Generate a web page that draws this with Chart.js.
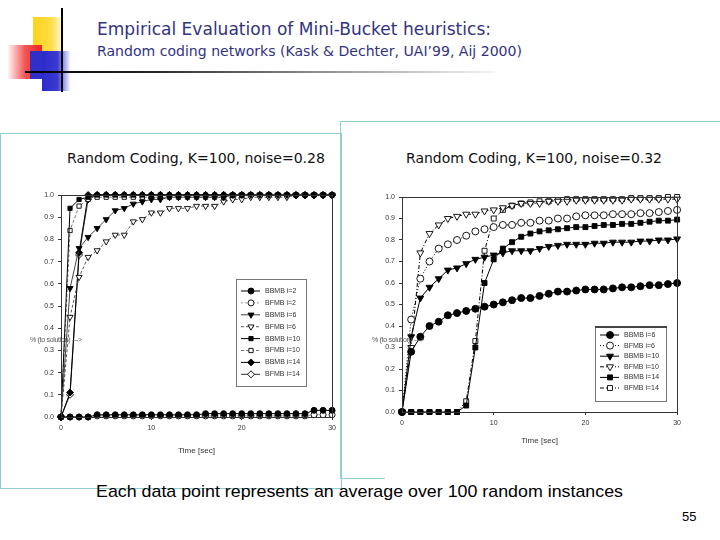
<!DOCTYPE html>
<html><head><meta charset="utf-8">
<script src="https://cdn.jsdelivr.net/npm/chart.js@4.4.0/dist/chart.umd.min.js"></script>
<style>
html,body{margin:0;padding:0;background:#fff;}
#slide{position:relative;width:720px;height:540px;overflow:hidden;background:#fff;font-family:"DejaVu Sans",Verdana,sans-serif;}
.abs{position:absolute;}
.fit{white-space:nowrap;transform-origin:0 50%;}
</style></head>
<body>
<div id="slide">
  <!-- decorations -->
  <div class="abs" style="left:33px;top:17px;width:30px;height:34px;background:linear-gradient(90deg,#ffd21a 0%,#ffdd44 60%,rgba(255,240,150,0.3) 100%);"></div>
  <div class="abs" style="left:8px;top:45px;width:34px;height:34px;background:linear-gradient(270deg,#ee2222 0%,#f25555 50%,rgba(255,200,200,0.2) 100%);"></div>
  <div class="abs" style="left:42px;top:51px;width:28px;height:40px;background:linear-gradient(90deg,#2b2bcc 0%,#3a3ad0 55%,rgba(200,200,255,0.2) 100%);"></div>
  <div class="abs" style="left:30px;top:51px;width:12px;height:28px;background:#3030c8;"></div>
  <div class="abs" style="left:61px;top:8px;width:2px;height:84px;background:#000;"></div>
  <div class="abs" style="left:25px;top:71px;width:470px;height:2px;background:linear-gradient(90deg,#000 0%,#222 25%,#888 60%,rgba(230,230,230,0.4) 100%);"></div>

  <div id="t1" class="abs fit" data-w="394" style="left:97px;top:18px;font-size:18px;color:#333380;">Empirical Evaluation of Mini-Bucket heuristics:</div>
  <div id="t2" class="abs fit" data-w="425" style="left:97px;top:43px;font-size:14px;color:#333380;">Random coding networks (Kask &amp; Dechter, UAI’99, Aij 2000)</div>

  <!-- panel borders -->
  <div class="abs" style="left:0px;top:133px;width:340px;height:354px;border:1px solid #8fcfcf;"></div>
  <div class="abs" style="left:340px;top:121px;width:400px;height:357px;border-left:1px solid #8fcfcf;border-top:1px solid #8fcfcf;"></div>
  <div class="abs" style="left:340px;top:478px;width:45px;height:1px;background:#8fcfcf;"></div>

  <div id="ct1" class="abs fit" data-w="258" style="left:67px;top:150px;font-size:14px;color:#111;">Random Coding, K=100, noise=0.28</div>
  <div id="ct2" class="abs fit" data-w="256" style="left:406px;top:150px;font-size:14px;color:#111;">Random Coding, K=100, noise=0.32</div>

  <canvas id="c1" class="abs" style="left:0px;top:180px;" width="340" height="280"></canvas>
  <canvas id="c2" class="abs" style="left:340px;top:180px;" width="345" height="275"></canvas>

  <div class="abs" style="left:30px;top:336px;font-size:7px;font-family:'Liberation Sans',Arial;color:#555;letter-spacing:-0.3px;">% (to solution) ---&gt;</div>
  <div class="abs" style="left:372px;top:336px;font-size:7px;font-family:'Liberation Sans',Arial;color:#555;letter-spacing:-0.3px;">% (to solution) ---&gt;</div>

  <div id="bt" class="abs fit" data-w="527" style="left:96px;top:482px;font-size:17px;font-family:'Liberation Sans',Arial;color:#000;">Each data point represents an average over 100 random instances</div>
  <div class="abs" style="left:682px;top:509px;font-size:13px;font-family:'Liberation Sans',Arial;color:#000;">55</div>
</div>
<script>
// ---------- data ----------
const timeSec = [0,1,2,3,4,5,6,7,8,9,10,11,12,13,14,15,16,17,18,19,20,21,22,23,24,25,26,27,28,29,30];
const xTicks = [0,10,20,30];

// Left chart: noise = 0.28
const L_BBMB_i2  = [0,0,0,0,0.01,0.01,0.01,0.01,0.01,0.01,0.01,0.01,0.01,0.01,0.01,0.01,0.015,0.015,0.015,0.015,0.015,0.015,0.015,0.015,0.015,0.015,0.015,0.015,0.03,0.03,0.03];
const L_BFMB_i2  = [0,0,0,0,0.005,0.005,0.005,0.005,0.005,0.005,0.005,0.005,0.005,0.005,0.005,0.005,0.005,0.005,0.005,0.005,0.005,0.005,0.005,0.005,0.005,0.005,0.005,0.005,0.01,0.01,0.01];
const L_BBMB_i6  = [0,0.58,0.76,0.81,0.85,0.89,0.93,0.94,0.96,0.97,0.98,0.98,0.99,0.99,0.99,0.99,0.99,0.99,0.99,1,1,1,1,1,1,1,1,1,1,1,1];
const L_BFMB_i6  = [0,0.45,0.63,0.72,0.75,0.79,0.82,0.82,0.88,0.89,0.92,0.92,0.94,0.94,0.94,0.95,0.95,0.95,0.97,0.98,0.98,0.99,0.99,0.99,0.99,0.99,1,1,1,1,1];
const L_BBMB_i10 = [0,0.94,0.98,0.99,1,1,1,1,1,1,1,1,1,1,1,1,1,1,1,1,1,1,1,1,1,1,1,1,1,1,1];
const L_BFMB_i10 = [0,0.84,0.95,0.98,0.99,0.99,0.99,0.99,0.99,0.99,0.99,0.99,0.99,0.99,0.99,0.99,0.99,0.99,0.99,0.99,1,1,1,1,1,1,1,1,1,1,1];
const L_BBMB_i14 = [0,0.11,0.74,1,1,1,1,1,1,1,1,1,1,1,1,1,1,1,1,1,1,1,1,1,1,1,1,1,1,1,1];
const L_BFMB_i14 = [0,0.10,0.73,0.98,1,1,1,1,1,1,1,1,1,1,1,1,1,1,1,1,1,1,1,1,1,1,1,1,1,1,1];

// Right chart: noise = 0.32
const R_BBMB_i6  = [0,0.28,0.35,0.40,0.42,0.45,0.46,0.47,0.48,0.49,0.50,0.51,0.52,0.53,0.53,0.54,0.55,0.56,0.56,0.565,0.57,0.57,0.57,0.575,0.58,0.58,0.585,0.59,0.59,0.595,0.60];
const R_BFMB_i6  = [0,0.43,0.62,0.70,0.76,0.78,0.80,0.82,0.84,0.85,0.86,0.87,0.87,0.88,0.88,0.89,0.89,0.90,0.90,0.91,0.915,0.915,0.915,0.92,0.92,0.92,0.925,0.925,0.93,0.935,0.94];
const R_BBMB_i10 = [0,0.35,0.53,0.58,0.62,0.66,0.67,0.69,0.71,0.72,0.73,0.74,0.75,0.75,0.75,0.76,0.77,0.775,0.78,0.78,0.78,0.785,0.785,0.79,0.79,0.79,0.795,0.795,0.80,0.80,0.805];
const R_BFMB_i10 = [0,0.30,0.74,0.83,0.87,0.90,0.91,0.92,0.92,0.935,0.94,0.95,0.96,0.97,0.97,0.97,0.98,0.98,0.98,0.985,0.985,0.985,0.985,0.985,0.985,0.99,0.99,0.99,0.99,0.99,0.99];
const R_BBMB_i14 = [0,0,0,0,0,0,0,0.03,0.30,0.60,0.71,0.76,0.79,0.815,0.83,0.84,0.845,0.85,0.855,0.86,0.86,0.865,0.87,0.87,0.875,0.875,0.88,0.885,0.89,0.89,0.895];
const R_BFMB_i14 = [0,0,0,0,0,0,0,0.05,0.33,0.75,0.90,0.94,0.96,0.97,0.975,0.98,0.98,0.985,0.99,0.99,0.99,0.99,0.99,0.99,0.99,0.995,0.995,0.995,0.995,1,1];

// ---------- helpers ----------
function pts(ys){ return ys.map((y,i)=>({x:timeSec[i], y:y})); }
function ds(label, ys, style, filled, dash, r, lineColor){
  return {label, data:pts(ys), showLine:true, borderColor:lineColor||'#000', borderWidth:1, borderDash:dash,
    pointStyle:style, pointRotation: style==='triangle'?180:0, pointRadius:r, pointHoverRadius:r,
    pointBackgroundColor: filled?'#000':'#fff', pointBorderColor:'#000', pointBorderWidth:0.9,
    backgroundColor: filled?'#000':'#fff', tension:0, clip:false};
}

const frameLegend = {
  id:'frameLegend',
  afterDatasetsDraw(chart, args, opts){
    const ctx = chart.ctx, a = chart.chartArea;
    ctx.save();
    ctx.strokeStyle='#333'; ctx.lineWidth=1;
    ctx.strokeRect(Math.round(a.left)+0.5, Math.round(a.top)+0.5, Math.round(a.right-a.left), Math.round(a.bottom-a.top));
    const b = opts.box;
    ctx.fillStyle='#fff'; ctx.fillRect(b.x,b.y,b.w,b.h);
    ctx.strokeStyle='#777'; ctx.lineWidth=1; ctx.strokeRect(b.x+0.5,b.y+0.5,b.w,b.h);
    if (opts.thickTop){ ctx.strokeStyle='#444'; ctx.lineWidth=2; ctx.beginPath(); ctx.moveTo(b.x,b.y+1); ctx.lineTo(b.x+b.w+1,b.y+1); ctx.stroke(); }
    chart.data.datasets.forEach((d,i)=>{
      const y = b.y + b.first + i*b.step;
      ctx.strokeStyle=d.borderColor; ctx.lineWidth=1; ctx.setLineDash(d.borderDash||[]);
      ctx.beginPath(); ctx.moveTo(b.x+5,y); ctx.lineTo(b.x+24,y); ctx.stroke();
      ctx.setLineDash([]);
      ctx.fillStyle=d.pointBackgroundColor; ctx.strokeStyle='#000'; ctx.lineWidth=0.9;
      Chart.helpers.drawPoint(ctx,{pointStyle:d.pointStyle, rotation:d.pointRotation, radius:d.pointRadius, borderWidth:0.9}, b.x+15, y);
      ctx.fillStyle='#333'; ctx.font='7px "Liberation Sans", Arial'; ctx.textBaseline='middle'; ctx.textAlign='left';
      ctx.fillText(d.label, b.x+29, y);
    });
    ctx.restore();
  }
};

function makeOptions(yW, xH, pad, box, thickTop, titlePad){
  return {
    responsive:false, animation:false, devicePixelRatio:1,
    layout:{padding:pad},
    plugins:{legend:{display:false}, tooltip:{enabled:false}, frameLegend:{box, thickTop}},
    scales:{
      x:{type:'linear', min:0, max:30, afterFit(s){s.height=xH;},
        afterBuildTicks(s){ s.ticks = xTicks.map(v=>({value:v})); },
        grid:{display:true, drawOnChartArea:false, tickLength:3, color:'#333'},
        border:{display:true,color:'#333'},
        ticks:{font:{size:7,family:'"Liberation Sans", Arial'}, color:'#333', padding:4, maxRotation:0},
        title:{display:true, text:'Time [sec]', font:{size:8,family:'"Liberation Sans", Arial'}, color:'#333', padding:titlePad}},
      y:{type:'linear', min:0, max:1, afterFit(s){s.width=yW;},
        ticks:{stepSize:0.1, font:{size:7,family:'"Liberation Sans", Arial'}, color:'#333', padding:4,
          callback:v=>Number(v).toFixed(1)},
        grid:{display:true, drawOnChartArea:false, tickLength:3, color:'#333'},
        border:{display:true,color:'#333'}}
    }
  };
}

new Chart(document.getElementById('c1'), {
  type:'scatter',
  data:{datasets:[
    ds('BBMB i=2',  L_BBMB_i2,  'circle',  true,  [], 3),
    ds('BFMB i=2',  L_BFMB_i2,  'circle',  false, [2,2], 3, '#999'),
    ds('BBMB i=6',  L_BBMB_i6,  'triangle',true,  [], 3.5, '#444'),
    ds('BFMB i=6',  L_BFMB_i6,  'triangle',false, [3,2], 3.5, '#555'),
    ds('BBMB i=10', L_BBMB_i10, 'rect',    true,  [], 3),
    ds('BFMB i=10', L_BFMB_i10, 'rect',    false, [3,2], 3, '#777'),
    ds('BBMB i=14', L_BBMB_i14, 'rectRot', true,  [], 3.5),
    ds('BFMB i=14', L_BFMB_i14, 'rectRot', false, [], 3.5, '#333')
  ]},
  options: makeOptions(61, 43, {top:15, right:5, left:0, bottom:0}, {x:236,y:99,w:70,h:107,first:12,step:11.9}, false, {top:4,bottom:4})
  ,plugins:[frameLegend]
});

new Chart(document.getElementById('c2'), {
  type:'scatter',
  data:{datasets:[
    ds('BBMB i=6',  R_BBMB_i6,  'circle',  true,  [], 3.5),
    ds('BFMB i=6',  R_BFMB_i6,  'circle',  false, [1,2], 3.5),
    ds('BBMB i=10', R_BBMB_i10, 'triangle',true,  [], 4),
    ds('BFMB i=10', R_BFMB_i10, 'triangle',false, [4,2,1,2], 4),
    ds('BBMB i=14', R_BBMB_i14, 'rect',    true,  [], 3.5),
    ds('BFMB i=14', R_BFMB_i14, 'rect',    false, [4,2,1,2], 3.5)
  ]},
  options: makeOptions(62, 43, {top:17, right:6, left:0, bottom:0}, {x:255,y:146,w:71,h:75,first:9,step:10.6}, true, {top:4,bottom:9})
  ,plugins:[frameLegend]
});

// fit text widths to measured reference widths
document.querySelectorAll('.fit').forEach(el=>{
  const w = parseFloat(el.dataset.w); const cur = el.getBoundingClientRect().width;
  if (cur>0) el.style.transform = 'scaleX('+(w/cur)+')';
});
</script>
</body></html>
